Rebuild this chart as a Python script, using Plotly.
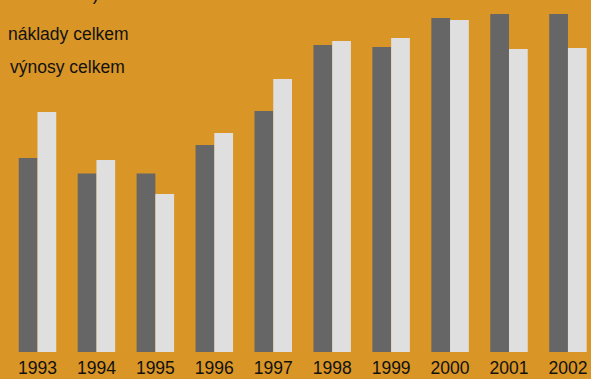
import plotly.graph_objects as go

years = ["1993", "1994", "1995", "1996", "1997", "1998", "1999", "2000", "2001", "2002"]
naklady = [194, 178.5, 178.5, 207, 241, 307, 305, 334, 338, 338]
vynosy = [240, 192, 158, 219, 273, 311, 314, 332, 303, 304]

BG = "#D99526"

fig = go.Figure()
fig.add_trace(go.Bar(x=years, y=naklady, name="náklady celkem",
                     marker=dict(color="#666666", line=dict(width=0))))
fig.add_trace(go.Bar(x=years, y=vynosy, name="výnosy celkem",
                     marker=dict(color="#DFDFDF", line=dict(width=0))))

fig.update_layout(
    width=591, height=379,
    margin=dict(l=0, r=0, t=0, b=27),
    paper_bgcolor=BG, plot_bgcolor=BG,
    barmode="group", bargap=0.364, bargroupgap=0,
    showlegend=False,
    font=dict(family="Liberation Sans, Arial, sans-serif", color="#111111", size=17),
    xaxis=dict(type="category", range=[-0.636, 9.391], showgrid=False,
               zeroline=False, showline=False, ticks="", ticklabelstandoff=3,
               tickfont=dict(size=17.5, color="#111111")),
    yaxis=dict(range=[0, 352], visible=False, showgrid=False, zeroline=False),
)

fig.add_annotation(text="(v milionech Kč)", xref="paper", yref="paper",
                   x=100 / 591, y=1 - 6 / 352, xanchor="right", yanchor="bottom",
                   showarrow=False, font=dict(size=17.5, color="#111111"))
fig.add_annotation(text="náklady celkem", xref="paper", yref="paper",
                   x=6 / 591, y=1 - 46 / 352, xanchor="left", yanchor="bottom",
                   showarrow=False, font=dict(size=17.5, color="#111111"))
fig.add_annotation(text="výnosy celkem", xref="paper", yref="paper",
                   x=8 / 591, y=1 - 79 / 352, xanchor="left", yanchor="bottom",
                   showarrow=False, font=dict(size=17.5, color="#111111"))

fig.write_html("out.html", config={"displayModeBar": False},
               post_script="document.body.style.margin='0';document.body.style.overflow='hidden';")
